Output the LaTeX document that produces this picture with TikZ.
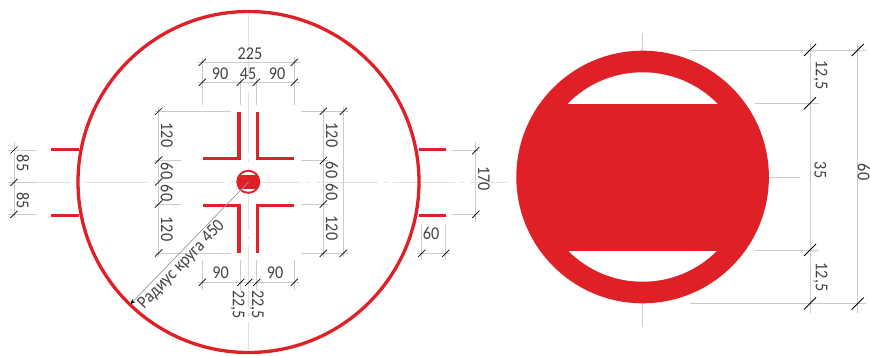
\documentclass[tikz,border=0pt]{standalone}
\usepackage{fontspec}
\setmainfont{Carlito}
\newfontfamily\dimfont[FakeStretch=0.9]{Carlito}
\usetikzlibrary{arrows.meta}
\definecolor{signred}{HTML}{E02027}
\definecolor{dimgrey}{HTML}{CBCBCB}
\definecolor{axisgrey}{HTML}{E2E2E2}
\definecolor{dimtextc}{HTML}{444444}
\newcommand{\tks}[2]{\draw[ticksmall] (#1-3.6,#2+3.6) -- (#1+3.6,#2-3.6);}
\newcommand{\tkl}[2]{\draw[ticklarge] (#1-6,#2+6) -- (#1+6,#2-6);}
\tikzset{
  x=1pt,y=-1pt,
  redline/.style={draw=signred,line width=3.3pt},
  dimline/.style={draw=dimgrey,line width=.8pt},
  axisline/.style={draw=axisgrey,line width=.8pt,dash pattern=on 62pt off 6pt on 3pt off 6pt},
  ticksmall/.style={draw=black,line width=.7pt},
  ticklarge/.style={draw=black,line width=.9pt},
  dimtext/.style={text=dimtextc,font=\dimfont\fontsize{18}{18}\selectfont,inner sep=0pt},
  dimv/.style={dimtext,rotate=-90},
  sign/.pic={
    \fill[signred] (0,0) circle (126.3);
    \fill[white] (0,0) circle (104.7);
    \begin{scope}
      \clip (0,0) circle (126);
      \fill[signred] (-110,-73.5) rectangle (110,73.5);
    \end{scope}
  }
}
\begin{document}
\begin{tikzpicture}
\useasboundingbox[fill=white] (0,0) rectangle (870,356);
% axes
\draw[axisline] (8,182) -- (507,182);
\draw[axisline] (248.7,14) -- (248.7,350);
\draw[dimline] (642.6,33) -- (642.6,327);
% large circle and stubs
\coordinate (C) at (248.5,182);
\draw[redline] (C) circle (170.5);
\draw[redline] (51,149.3) -- (78.5,149.3);
\draw[redline] (51,215.7) -- (78.5,215.7);
\draw[redline] (418.5,149.3) -- (445.7,149.3);
\draw[redline] (418.5,215.7) -- (445.7,215.7);
% cross
\draw[redline] (239,111.7) -- (239,158.3) -- (203,158.3);
\draw[redline] (257.7,111.7) -- (257.7,158.3) -- (294,158.3);
\draw[redline] (239,252.7) -- (239,205.7) -- (203,205.7);
\draw[redline] (257.7,252.7) -- (257.7,205.7) -- (294,205.7);
\pic[scale=.095] at (248.3,181.8) {sign};
% top dims
\draw[dimline] (198,62.3) -- (300,62.3) (198,82.3) -- (300,82.3);
\draw[dimline] (202.3,57) -- (202.3,105) (294.3,57) -- (294.3,105);
\draw[dimline] (240.3,78) -- (240.3,105) (256.3,78) -- (256.3,105);
\tks{202.3}{62.3}\tks{294.3}{62.3}
\tks{202.3}{82.3}\tks{240.3}{82.3}\tks{256.3}{82.3}\tks{294.3}{82.3}
\node[dimtext] (t225) at (250,53.5) {225};
\node[dimtext] (t90a) at (220,74) {90};
\node[dimtext] (t45) at (248,73.5) {45};
\node[dimtext] (t90b) at (277,74) {90};
% left dims
\draw[dimline] (158.7,107) -- (158.7,257);
\draw[dimline] (155,111.3) -- (231,111.3) (155,160) -- (181,160) (155,204) -- (181,204) (155,253) -- (231,253);
\tks{158.7}{111.3}\tks{158.7}{160}\tks{158.7}{182}\tks{158.7}{204}\tks{158.7}{253}
\node[dimv] (l120a) at (167,135) {120};
\node[dimv] (l60a) at (167,171) {60};
\node[dimv] (l60b) at (167,193) {60};
\node[dimv] (l120b) at (167,229) {120};
% right dims
\draw[dimline] (323.3,107) -- (323.3,257) (343.3,107) -- (343.3,257);
\draw[dimline] (301,111.3) -- (348,111.3) (301,160.5) -- (328,160.5) (301,204) -- (328,204) (301,253.3) -- (348,253.3);
\tks{323.3}{111.3}\tks{343.3}{111.3}\tks{323.3}{160.5}\tks{323.3}{204}\tks{323.3}{253.3}\tks{343.3}{253.3}
\node[dimv] (r120a) at (332,135) {120};
\node[dimv] (r60a) at (332,170) {60};
\node[dimv] (r60b) at (332,192) {60};
\node[dimv] (r120b) at (332,228) {120};
% 170 and 60
\draw[dimline] (475.7,142) -- (475.7,222);
\draw[dimline] (452,150.7) -- (480,150.7) (452,214.3) -- (480,214.3);
\tks{475.7}{150.7}\tks{475.7}{214.3}
\node[dimv] (t170) at (484,178.5) {170};
\draw[dimline] (421.7,224) -- (421.7,260) (445.7,224) -- (445.7,260) (417,253.3) -- (450,253.3);
\tks{421.7}{253.3}\tks{445.7}{253.3}
\node[dimtext] (t60) at (431,233) {60};
% 85
\draw[dimline] (14,142) -- (14,218);
\draw[dimline] (8,150) -- (36,150) (8,182.3) -- (36,182.3) (8,214.3) -- (36,214.3);
\tks{14}{150}\tks{14}{182.3}\tks{14}{214.3}
\node[dimv] (t85a) at (23,163) {85};
\node[dimv] (t85b) at (23,200.7) {85};
% bottom dims
\draw[dimline] (198,282.3) -- (299,282.3);
\draw[dimline] (202.3,260) -- (202.3,290) (240.7,260) -- (240.7,290) (256.7,260) -- (256.7,290) (294.3,260) -- (294.3,290);
\tks{202.3}{282.3}\tks{240.7}{282.3}\tks{248.7}{282.3}\tks{256.7}{282.3}\tks{294.3}{282.3}
\node[dimtext] (b90a) at (220.5,273) {90};
\node[dimtext] (b90b) at (275,273) {90};
\node[dimv] (b225a) at (237.5,304.5) {22,5};
\node[dimv] (b225b) at (256.7,304.5) {22,5};
% radius
\coordinate (Rend) at (130.5,304);
\draw[draw=gray!80,line width=.7pt,-{Stealth[length=5pt,width=4.5pt,color=black]}] (C) -- (Rend);
\node[dimtext,rotate=46] (radius) at (181.5,265) {Радиус круга 450};
% right sign
\pic at (642.6,177) {sign};
\draw[dimline] (690,50) -- (866,50) (690,303.5) -- (866,303.5);
\draw[dimline] (755,103.3) -- (819,103.3) (755,250) -- (819,250) (769,177) -- (800,177);
\draw[dimline] (810,44) -- (810,313) (857.7,44) -- (857.7,313);
\tkl{810}{50}\tkl{857.7}{50}\tkl{810}{103.3}\tkl{810}{250}\tkl{810}{303.5}\tkl{857.7}{303.5}
\node[dimv] (s125a) at (820.5,75) {12,5};
\node[dimv] (s35) at (820.5,170) {35};
\node[dimv] (s60) at (864,172) {60};
\node[dimv] (s125b) at (820.5,277) {12,5};
\end{tikzpicture}
\end{document}
